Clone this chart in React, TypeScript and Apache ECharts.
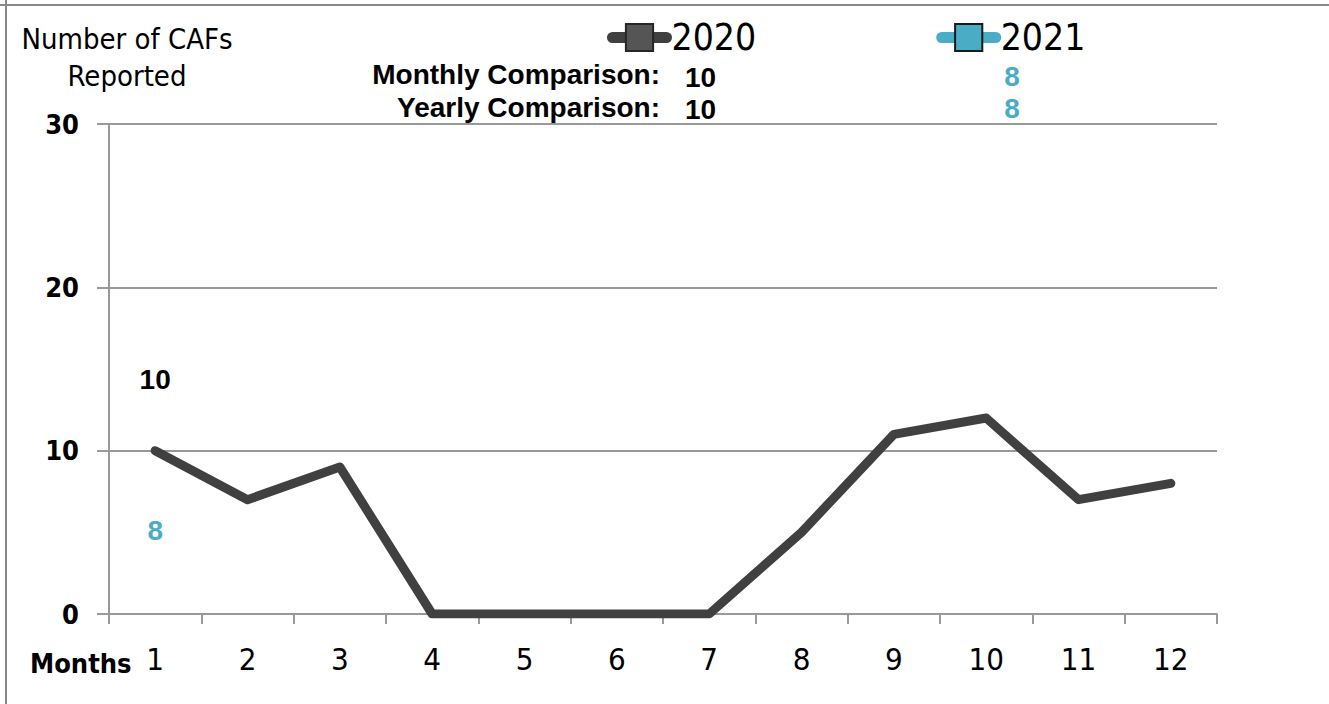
import React, { useEffect, useRef } from "react";
import * as echarts from "echarts";

const months = ["1", "2", "3", "4", "5", "6", "7", "8", "9", "10", "11", "12"];
const values2020 = [10, 7, 9, 0, 0, 0, 0, 5, 11, 12, 7, 8];
const values2021 = [8, null, null, null, null, null, null, null, null, null, null, null];
const seriesNames = ["2020", "2021"];
const monthlyComparison = [10, 8];
const yearlyComparison = [10, 8];
const yTicks = { min: 0, max: 30, interval: 10 };

const NARROW = '"DejaVu Sans Condensed", "Liberation Sans", sans-serif';
const BOLD = '"Liberation Sans", Arial, sans-serif';
const DARK = "#404040";
const BLUE = "#4bacc6";

export default function App() {
  const ref = useRef<HTMLDivElement>(null);
  useEffect(() => {
    document.body.style.margin = "0";
    const chart = echarts.init(ref.current!, null, { renderer: "svg" });
    chart.setOption({
      animation: false,
      backgroundColor: "#ffffff",
      grid: { left: 109, right: 112, top: 124, bottom: 90 },
      legend: {
        left: 602,
        top: 14,
        itemWidth: 54,
        itemHeight: 34,
        itemGap: 180,
        textStyle: { fontFamily: NARROW, fontSize: 37, lineHeight: 34, color: "#000" },
        data: [
          { name: seriesNames[0], lineStyle: { color: DARK, width: 11, cap: "round" } },
          { name: seriesNames[1], lineStyle: { color: BLUE, width: 11, cap: "round" } },
        ],
      },
      xAxis: {
        type: "category",
        data: months,
        boundaryGap: true,
        axisLine: { lineStyle: { color: "#999", width: 2 } },
        axisTick: { show: true, length: 10, lineStyle: { color: "#999", width: 2 } },
        axisLabel: { fontFamily: NARROW, fontSize: 31, color: "#000", margin: 29 },
      },
      yAxis: {
        type: "value",
        min: yTicks.min,
        max: yTicks.max,
        interval: yTicks.interval,
        axisLine: { show: true, lineStyle: { color: "#999", width: 2 } },
        axisTick: { show: true, length: 12, lineStyle: { color: "#999", width: 2 } },
        splitLine: { lineStyle: { color: "#999", width: 2 } },
        axisLabel: { fontFamily: NARROW, fontWeight: "bold", fontSize: 27, color: "#000", margin: 30 },
      },
      series: [
        {
          name: seriesNames[0],
          type: "line",
          data: values2020.map((v, i) =>
            i === 0
              ? { value: v, label: { show: true, position: "top", distance: 57 } }
              : v
          ),
          symbol: "rect",
          symbolSize: 0,
          showSymbol: true,
          itemStyle: { color: "#555555", borderColor: "#262626", borderWidth: 2 },
          lineStyle: { color: DARK, width: 9, cap: "round", join: "round" },
          label: { show: false, fontFamily: BOLD, fontWeight: "bold", fontSize: 28, color: "#000" },
        },
        {
          name: seriesNames[1],
          type: "line",
          data: values2021.map((v, i) =>
            i === 0 && v !== null
              ? { value: v, label: { show: true, position: "bottom", distance: 33 } }
              : v
          ),
          symbol: "rect",
          symbolSize: 0,
          showSymbol: true,
          itemStyle: { color: BLUE, borderColor: "#1a1a1a", borderWidth: 2 },
          lineStyle: { color: BLUE, width: 9, cap: "round", join: "round" },
          label: { show: false, fontFamily: BOLD, fontWeight: "bold", fontSize: 28, color: BLUE },
        },
      ],
      graphic: [
        { type: "line", shape: { x1: 6, y1: 0, x2: 6, y2: 704 }, style: { stroke: "#888", lineWidth: 2 } },
        { type: "line", shape: { x1: 0, y1: 5, x2: 1329, y2: 5 }, style: { stroke: "#888", lineWidth: 2 } },
        {
          type: "text",
          x: 127,
          y: 20,
          style: {
            text: "Number of CAFs\nReported",
            textAlign: "center",
            fontFamily: NARROW,
            fontSize: 29,
            lineHeight: 37,
            fill: "#000",
          },
        },
        {
          type: "text",
          x: 660,
          y: 60,
          style: { text: "Monthly Comparison:", textAlign: "right", fontFamily: BOLD, fontWeight: "bold", fontSize: 28, fill: "#000" },
        },
        {
          type: "text",
          x: 660,
          y: 93,
          style: { text: "Yearly Comparison:", textAlign: "right", fontFamily: BOLD, fontWeight: "bold", fontSize: 28, fill: "#000" },
        },
        {
          type: "text",
          x: 685,
          y: 63,
          style: { text: String(monthlyComparison[0]), fontFamily: BOLD, fontWeight: "bold", fontSize: 28, fill: "#000" },
        },
        {
          type: "text",
          x: 685,
          y: 95,
          style: { text: String(yearlyComparison[0]), fontFamily: BOLD, fontWeight: "bold", fontSize: 28, fill: "#000" },
        },
        {
          type: "text",
          x: 1012,
          y: 62,
          style: { text: String(monthlyComparison[1]), textAlign: "center", fontFamily: BOLD, fontWeight: "bold", fontSize: 28, fill: BLUE },
        },
        {
          type: "text",
          x: 1012,
          y: 94,
          style: { text: String(yearlyComparison[1]), textAlign: "center", fontFamily: BOLD, fontWeight: "bold", fontSize: 28, fill: BLUE },
        },
        {
          type: "text",
          x: 30,
          y: 650,
          style: { text: "Months", fontFamily: NARROW, fontWeight: "bold", fontSize: 27, fill: "#000" },
        },
      ],
    });
    return () => chart.dispose();
  }, []);
  return <div ref={ref} style={{ width: 1329, height: 704 }} />;
}
